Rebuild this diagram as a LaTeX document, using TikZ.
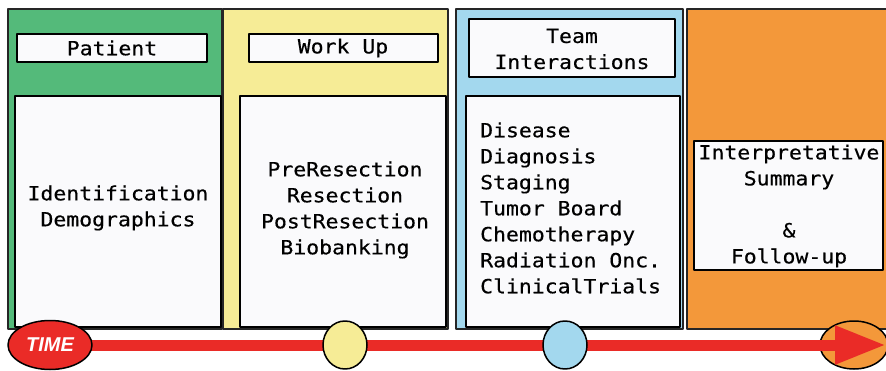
\documentclass[tikz,border=0pt]{standalone}
\usepackage{fontspec}
\setmonofont[FakeStretch=1.1, FakeBold=0.4]{DejaVu Sans Mono}
\setsansfont{Liberation Sans}
\usetikzlibrary{arrows.meta, shapes}

\definecolor{panelgreen}{RGB}{84,186,122}
\definecolor{panelyellow}{RGB}{246,236,150}
\definecolor{panelblue}{RGB}{163,216,238}
\definecolor{panelorange}{RGB}{243,152,58}
\definecolor{timered}{RGB}{234,43,39}
\definecolor{boxwhite}{RGB}{250,250,252}

\tikzset{
	panel/.style={draw=black!85, line width=1.5pt},
	box/.style={draw=black, line width=1.6pt, fill=boxwhite},
	txt/.style={font=\ttfamily\fontsize{19.5}{26}\selectfont, align=center, inner sep=0pt},
	timemark/.style={ellipse, draw=black, line width=1.5pt, minimum width=44pt, minimum height=48pt, inner sep=0pt}
}

\begin{document}
\begin{tikzpicture}[line join=round]
	\begin{scope}[x=1pt, y=-1pt]
		\useasboundingbox[fill=white] (0,0) rectangle (886,371);
		% the four phases
		\draw[panel, fill=panelgreen]  (8,9) rectangle (222,329);
		\draw[panel, fill=panelyellow] (223,9) rectangle (448,329);
		\draw[panel, fill=panelblue]   (456,9) rectangle (683,329);
		\draw[panel, fill=panelorange] (687,9) rectangle (892,329);
		% headings
		\draw[box] (17,34) rectangle (207,62);
		\draw[box] (249,34) rectangle (438,62);
		\draw[box] (469,19) rectangle (675,77);
		\node[txt] (patient) at (112,48) {Patient};
		\node[txt] (workup) at (343,48) {Work Up};
		\node[txt] (team) at (572,49) {Team\\Interactions};
		% contents
		\draw[box] (15,96) rectangle (221,327);
		\draw[box] (240,96) rectangle (446,327);
		\draw[box] (466,96) rectangle (680,327);
		\draw[box] (694,141) rectangle (883,270);
		\node[txt] (ident) at (118,208) {Identification\\Demographics};
		\node[txt] (surgery) at (345,210) {PreResection\\Resection\\PostResection\\Biobanking};
		\node[txt, align=left, anchor=west] (clinic) at (480,208) {Disease\\Diagnosis\\Staging\\Tumor Board\\Chemotherapy\\Radiation Onc.\\ClinicalTrials};
		\node[txt] (summary) at (789,206) {Interpretative\\Summary\\[26pt]\&\\Follow-up};
		% time line
		\coordinate (start) at (50,345);
		\coordinate (tip) at (886,345);
		\node[timemark, fill=panelorange, minimum width=68pt] (goal) at (854,345) {};
		\draw[timered, line width=11pt, -{Triangle[length=51pt, width=36pt]}] (start) -- (tip);
		\node[timemark, fill=timered, minimum width=84pt, minimum height=49pt, text=white, font=\sffamily\bfseries\itshape\fontsize{20}{20}\selectfont] (time) at (start) {TIME};
		\node[timemark, fill=panelyellow] (mark1) at (345,345) {};
		\node[timemark, fill=panelblue] (mark2) at (565,345) {};
	\end{scope}
\end{tikzpicture}
\end{document}
